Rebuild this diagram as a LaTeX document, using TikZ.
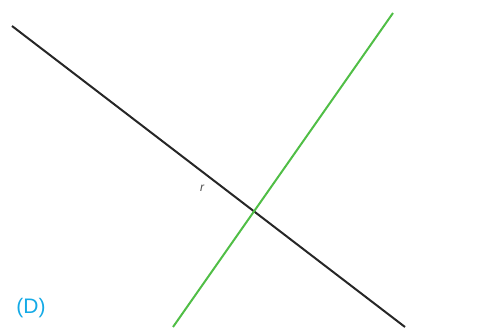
\documentclass[tikz,border=0pt]{standalone}
\usepackage{fontspec}
\setmainfont{Liberation Sans}
\definecolor{lblue}{RGB}{20,170,230}
\definecolor{lgreen}{RGB}{80,190,70}
\begin{document}
\begin{tikzpicture}[x=1pt,y=1pt,
  blackline/.style={line width=2pt,black!85},
  greenline/.style={line width=2pt,lgreen},
  lbl/.style={inner sep=0pt}]
\useasboundingbox (0,0) rectangle (500,329);
\coordinate (b1) at (12,303);
\coordinate (b2) at (405,2);
\coordinate (g1) at (393,316);
\coordinate (g2) at (173,2);
\draw[blackline] (b1) -- (b2);
\draw[greenline] (g1) -- (g2);
\node[lbl,font=\fontsize{12}{13}\selectfont\itshape,text=black!70] (r) at (202,141) {r};
\node[lbl,font=\fontsize{21}{23}\selectfont,text=lblue] (D) at (31,21) {(D)};
\end{tikzpicture}
\end{document}
